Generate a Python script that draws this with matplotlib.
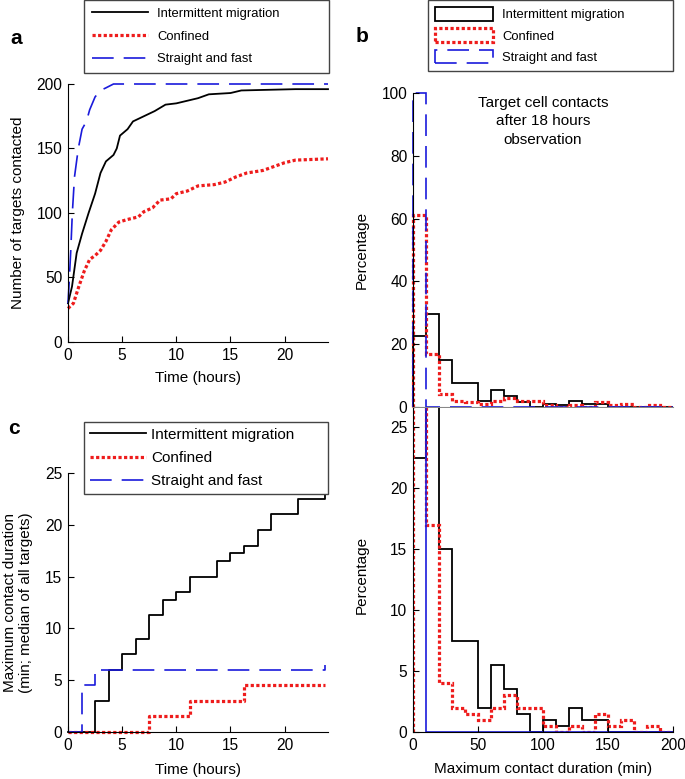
import numpy as np
import matplotlib
matplotlib.use("Agg")
import matplotlib.pyplot as plt
import matplotlib.patches as mpatches
from matplotlib.lines import Line2D

plt.rcParams["font.family"] = ["Liberation Sans", "DejaVu Sans"]
plt.rcParams["font.size"] = 10

# ----------------------------------------------------------
# Data
# ----------------------------------------------------------
LABELS = ["Intermittent migration", "Confined", "Straight and fast"]

# panel a: cumulative number of targets contacted
t_int = [0, 0.37, 0.8, 1.3, 1.9, 2.5, 3.0, 3.5, 4.2, 4.5, 4.8, 5.5, 6.0,
         7.0, 8.0, 9.0, 10.0, 11.0, 12.0, 13.0, 15.0, 16.0, 21.0, 24.0]
n_int = [30, 43, 69, 84, 100, 115, 131, 140, 145, 150, 160, 165, 171,
         175, 179, 184, 185, 187, 189, 192, 193, 195, 196, 196]

t_con = [0, 0.5, 1.0, 1.5, 2.0, 2.5, 3.0, 3.5, 4.0, 4.7, 5.5, 6.5, 7.0,
         7.8, 8.5, 9.5, 10.0, 11.0, 12.0, 13.5, 14.5, 15.5, 16.5, 18.0,
         19.0, 20.0, 21.0, 24.0]
n_con = [26, 30, 43, 55, 64, 67, 71, 78, 87, 93, 95, 97, 101,
         104, 110, 111, 115, 117, 121, 122, 124, 128, 131, 133,
         136, 139, 141, 142]

t_sf = [0, 0.1, 0.25, 0.4, 0.6, 0.95, 1.3, 1.7, 2.0, 2.5, 3.0, 3.5, 4.2, 24.0]
n_sf = [30, 45, 70, 100, 128, 150, 165, 171, 180, 190, 195, 197, 200, 200]

# panel c: median of maximum contact duration (steps)
t_med = [0, 1.25, 2.5, 3.75, 5, 6.25, 7.5, 8.75, 10, 11.25, 12.5, 13.75,
         15, 16.25, 17.5, 18.75, 20, 21.25, 22.5, 23.75]
med_int = [0, 0, 3, 6, 7.5, 9, 11.25, 12.75, 13.5, 15, 15, 16.5,
           17.25, 18, 19.5, 21, 21, 22.5, 22.5, 24]
med_con = [0, 0, 0, 0, 0, 0, 1.5, 1.5, 1.5, 3, 3, 3,
           3, 4.5, 4.5, 4.5, 4.5, 4.5, 4.5, 4.5]
med_sf = [0, 4.5, 6, 6, 6, 6, 6, 6, 6, 6, 6, 6,
          6, 6, 6, 6, 6, 6, 6, 6.5]

# panels b/d: histogram of maximum contact duration (10 min bins)
bin_edges = np.arange(0, 210, 10)
pct_int = [22.5, 29.5, 15, 7.5, 7.5, 2, 5.5, 3.5, 1.5, 0,
           1, 0.5, 2, 1, 1, 0, 0, 0, 0, 0]
pct_con = [61, 17, 4, 2, 1.5, 1, 2, 3, 2, 2,
           0.5, 0, 0.5, 0, 1.5, 0.5, 1, 0, 0.5, 0]
pct_sf = [100, 0, 0, 0, 0, 0, 0, 0, 0, 0,
          0, 0, 0, 0, 0, 0, 0, 0, 0, 0]

# ----------------------------------------------------------
# Styles
# ----------------------------------------------------------
BLACK = dict(color="black", lw=1.3, ls="-")
RED = dict(color="#ee1c1c", lw=2.3, ls=(0, (1, 0.75)))
BLUE = dict(color="#1a1adb", lw=1.2, ls=(0, (13, 6)))

W, H = 685, 779
TICK_FS = 11.2


def fig_rect(x0, x1, y_top, y_bot):
    return [x0 / W, 1 - y_bot / H, (x1 - x0) / W, (y_bot - y_top) / H]


def style_axes(ax):
    ax.spines[["top", "right"]].set_visible(False)
    ax.tick_params(direction="in", length=4, width=0.8, labelsize=TICK_FS, pad=4)
    for s in ax.spines.values():
        s.set_linewidth(0.8)


def add_legend(ax, handles, x0, x1, y0, y1, fs, **kw):
    leg = ax.legend(handles, LABELS, loc="upper left",
                    bbox_to_anchor=(x0 / W, 1 - y1 / H, (x1 - x0) / W, (y1 - y0) / H),
                    bbox_transform=ax.figure.transFigure, mode="expand",
                    borderaxespad=0, fancybox=False, framealpha=1,
                    edgecolor="#444444", fontsize=fs, **kw)
    leg.get_frame().set_linewidth(1.0)
    return leg


fig = plt.figure(figsize=(W / 100, H / 100), dpi=100)

# ----------------------------------------------------------
# a: targets contacted
# ----------------------------------------------------------
ax_a = fig.add_axes(fig_rect(68, 328, 84, 342))
ax_a.plot(t_int, n_int, clip_on=False, **BLACK)
ax_a.plot(t_con, n_con, clip_on=False, **RED)
ax_a.plot(t_sf, n_sf, clip_on=False, **BLUE)
ax_a.set_xlim(0, 24)
ax_a.set_ylim(0, 200)
ax_a.set_xticks([0, 5, 10, 15, 20])
ax_a.set_yticks([0, 50, 100, 150, 200])
style_axes(ax_a)
line_handles = [Line2D([], [], **BLACK), Line2D([], [], **RED), Line2D([], [], **BLUE)]
add_legend(ax_a, line_handles, 84, 329, 0, 73, 9.4,
           handlelength=4.3, handletextpad=0.7, labelspacing=0.8, borderpad=0.6)

# ----------------------------------------------------------
# b: histogram, full range
# ----------------------------------------------------------
ax_b = fig.add_axes(fig_rect(413, 673, 93, 407))
ax_b.stairs(pct_int, bin_edges, baseline=0, clip_on=False, **BLACK)
ax_b.stairs(pct_con, bin_edges, baseline=0, clip_on=False, **RED)
ax_b.stairs(pct_sf, bin_edges, baseline=0, clip_on=False, **BLUE)
ax_b.set_xlim(0, 200)
ax_b.set_ylim(0, 100)
ax_b.set_xticks([])
ax_b.set_yticks([0, 20, 40, 60, 80, 100])
style_axes(ax_b)
ax_b.spines["bottom"].set_color("#888888")
ax_b.text(0.5, 0.99, "Target cell contacts\nafter 18 hours\nobservation",
          transform=ax_b.transAxes, ha="center", va="top", fontsize=11,
          linespacing=1.38)
patch_handles = [mpatches.Patch(facecolor="none", edgecolor=d["color"],
                                linewidth=d["lw"], linestyle=d["ls"])
                 for d in (BLACK, RED, BLUE)]
add_legend(ax_b, patch_handles, 428, 673, 0, 73, 9.4,
           handlelength=4.45, handleheight=1.2, handletextpad=0.7,
           labelspacing=0.55, borderpad=0.55)

# ----------------------------------------------------------
# c: median max contact duration over time
# ----------------------------------------------------------
ax_c = fig.add_axes(fig_rect(68, 328, 473, 732))
ax_c.plot(t_med, med_int, drawstyle="steps-post", clip_on=False, **BLACK)
ax_c.plot(t_med, med_con, drawstyle="steps-post", clip_on=False, **RED)
ax_c.plot(t_med, med_sf, drawstyle="steps-post", clip_on=False, **BLUE)
ax_c.set_xlim(0, 24)
ax_c.set_ylim(0, 25)
ax_c.set_xticks([0, 5, 10, 15, 20])
ax_c.set_yticks([0, 5, 10, 15, 20, 25])
style_axes(ax_c)
add_legend(ax_c, line_handles, 84, 328, 422, 494, 11,
           handlelength=3.7, handletextpad=0.3, labelspacing=0.6, borderpad=0.38)

# ----------------------------------------------------------
# d: histogram, zoomed y
# ----------------------------------------------------------
ax_d = fig.add_axes(fig_rect(413, 673, 408, 732))
BLUE_D = dict(BLUE, ls="-")
ax_d.stairs(pct_int, bin_edges, baseline=0, **BLACK)
ax_d.stairs(pct_con, bin_edges, baseline=0, **RED)
ax_d.stairs(pct_sf, bin_edges, baseline=0, **BLUE_D)
ax_d.set_xlim(0, 200)
ax_d.set_ylim(0, 26.6)
ax_d.set_xticks([0, 50, 100, 150, 200])
ax_d.set_yticks([0, 5, 10, 15, 20, 25])
style_axes(ax_d)

# ----------------------------------------------------------
# Labels
# ----------------------------------------------------------
fig.text(18 / W, 1 - 213 / H, "Number of targets contacted", rotation=90,
         ha="center", va="center", fontsize=11)
fig.text(198 / W, 1 - 378 / H, "Time (hours)", ha="center", va="center", fontsize=11)
fig.text(362 / W, 1 - 250 / H, "Percentage", rotation=90,
         ha="center", va="center", fontsize=11)
fig.text(18 / W, 1 - 603 / H, "Maximum contact duration\n(min; median of all targets)",
         rotation=90, ha="center", va="center", fontsize=11, linespacing=1.2)
fig.text(198 / W, 1 - 770 / H, "Time (hours)", ha="center", va="center", fontsize=11)
fig.text(362 / W, 1 - 575 / H, "Percentage", rotation=90,
         ha="center", va="center", fontsize=11)
fig.text(543 / W, 1 - 769 / H, "Maximum contact duration (min)",
         ha="center", va="center", fontsize=11)

for lbl, x, y in [("a", 16, 38), ("b", 362, 37), ("c", 14, 428)]:
    fig.text(x / W, 1 - y / H, lbl, ha="center", va="center",
             fontsize=15, fontweight="bold")

fig.savefig("out.png", dpi=100)
